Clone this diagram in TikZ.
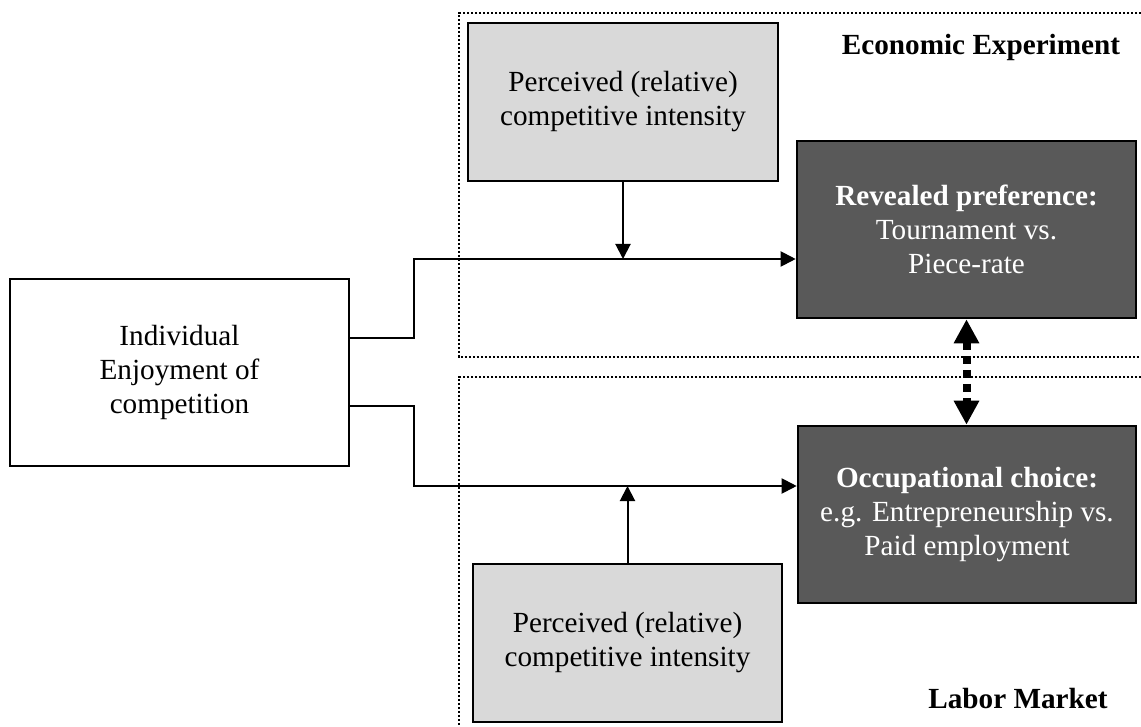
\documentclass[tikz,border=0pt]{standalone}
\usepackage{fontspec}
\setmainfont{Liberation Serif}
\usetikzlibrary{arrows.meta}
\definecolor{boxgray}{HTML}{D9D9D9}
\definecolor{resultgray}{HTML}{595959}
\begin{document}
\begin{tikzpicture}[x=0.5pt,y=-0.5pt,
    font=\fontsize{14.6}{17}\selectfont,
    box/.style={draw,line width=1.3pt,align=center,inner sep=0pt},
    link/.style={line width=1pt,-{Triangle[length=7.5pt,width=7.5pt]}},
    area/.style={line width=1.2pt,dash pattern=on 1.2pt off 0.8pt}]
    \useasboundingbox (0,0) rectangle (1141,727);
          \draw[area] (1141,13) -- (459,13) -- (459,357) -- (1141,357);
          \draw[area] (1141,377) -- (459,377) -- (459,727);
          \node[anchor=base] (exp) at (981,55) {\textbf{Economic Experiment}};
          \node[anchor=base] (lab) at (1018,708) {\textbf{Labor Market}};
          \node[box,minimum width=169.5pt,minimum height=93.5pt] (enjoy) at (179.5,372.5) {Individual\\Enjoyment of\\competition};
          \node[box,fill=boxgray,minimum width=155pt,minimum height=79pt] (percTop) at (623,102) {Perceived (relative)\\competitive intensity};
          \node[box,fill=boxgray,minimum width=154.5pt,minimum height=79pt] (percBot) at (627.5,643) {Perceived (relative)\\competitive intensity};
          \node[box,fill=resultgray,text=white,minimum width=169.5pt,minimum height=88.5pt] (reveal) at (966.5,229.5) {\textbf{Revealed preference:}\\Tournament vs.\\Piece-rate};
          \node[box,fill=resultgray,text=white,minimum width=169pt,minimum height=88.5pt] (occup) at (967,514.5) {\textbf{Occupational choice:}\\e.g. Entrepreneurship vs.\\Paid employment};
          \coordinate (upper) at (414,259);
          \coordinate (lower) at (414,486);
          \draw[link] (enjoy.east |- 0,338) -| (upper) -- (reveal.west |- upper);
          \draw[link] (enjoy.east |- 0,406) -| (lower) -- (occup.west |- lower);
          \draw[link] (percTop.south) -- (percTop.south |- upper);
          \draw[link] (percBot.north) -- (percBot.north |- lower);
          \draw[line width=4pt,dash pattern=on 4pt off 3pt,{Triangle[length=12pt,width=12pt]}-{Triangle[length=12pt,width=12pt]}] (reveal.south) -- (reveal.south |- occup.north);
        \end{tikzpicture}
\end{document}
